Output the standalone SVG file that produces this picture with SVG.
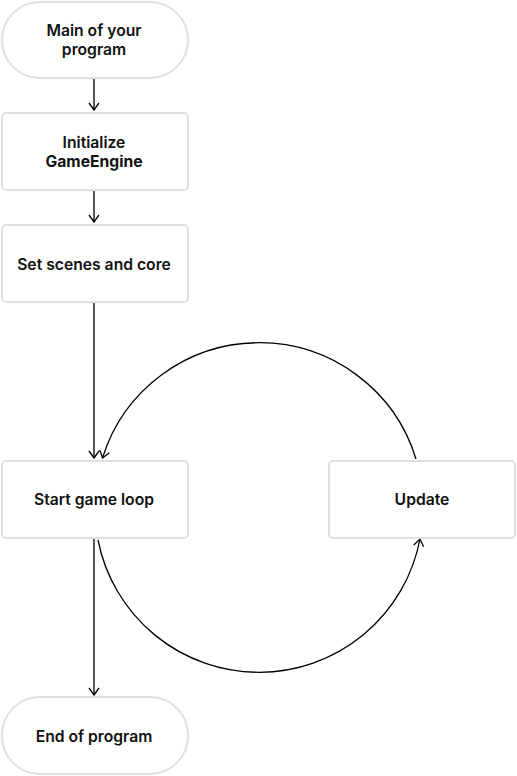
<svg xmlns="http://www.w3.org/2000/svg" width="517" height="776" viewBox="0 0 517 776">
<defs>
<style>
.box{fill:#fff;stroke:#e0e0e0;stroke-width:2}
.t{font-family:Inter,"Liberation Sans",sans-serif;font-size:15.7px;font-weight:600;fill:#111;text-anchor:middle}
.b{font-weight:700}
.c{fill:none;stroke:#000;stroke-width:1.3}
</style>
<marker id="ah" viewBox="0 0 12 12" refX="11" refY="6" markerWidth="12" markerHeight="12" markerUnits="userSpaceOnUse" orient="auto">
<path d="M4,1 L11,6 L4,11" fill="none" stroke="#000" stroke-width="1.3"/>
</marker>
</defs>
<rect width="517" height="776" fill="#fff"/>
<g id="connectors">
<line class="c" x1="94" y1="79" x2="94" y2="110" marker-end="url(#ah)"/>
<line class="c" x1="94" y1="191" x2="94" y2="222" marker-end="url(#ah)"/>
<line class="c" x1="94" y1="303" x2="94" y2="458" marker-end="url(#ah)"/>
<line class="c" x1="94" y1="539" x2="94" y2="695" marker-end="url(#ah)"/>
<path class="c" d="M416,459 A164 164 0 0 0 102.5,458" marker-end="url(#ah)"/>
<path class="c" d="M98,540 A164 164 0 0 0 420,539" marker-end="url(#ah)"/>
</g>
<g id="main">
<rect class="box" x="2" y="2" width="186" height="76" rx="38"/>
<text class="t" x="94" y="36">Main of your</text>
<text class="t" x="94" y="55">program</text>
</g>
<g id="init">
<rect class="box" x="2" y="113" width="186" height="77" rx="4"/>
<text class="t" x="94" y="148">Initialize</text>
<text class="t b" x="94" y="167">GameEngine</text>
</g>
<g id="scenes">
<rect class="box" x="2" y="225" width="186" height="77" rx="4"/>
<text class="t" x="94" y="270">Set scenes and core</text>
</g>
<g id="loop">
<rect class="box" x="2" y="461" width="186" height="77" rx="4"/>
<text class="t" x="94" y="505">Start game loop</text>
</g>
<g id="update">
<rect class="box" x="329" y="461" width="186" height="77" rx="4"/>
<text class="t" x="422" y="505">Update</text>
</g>
<g id="end">
<rect class="box" x="2" y="697" width="186" height="77" rx="38"/>
<text class="t" x="94" y="742">End of program</text>
</g>
</svg>
